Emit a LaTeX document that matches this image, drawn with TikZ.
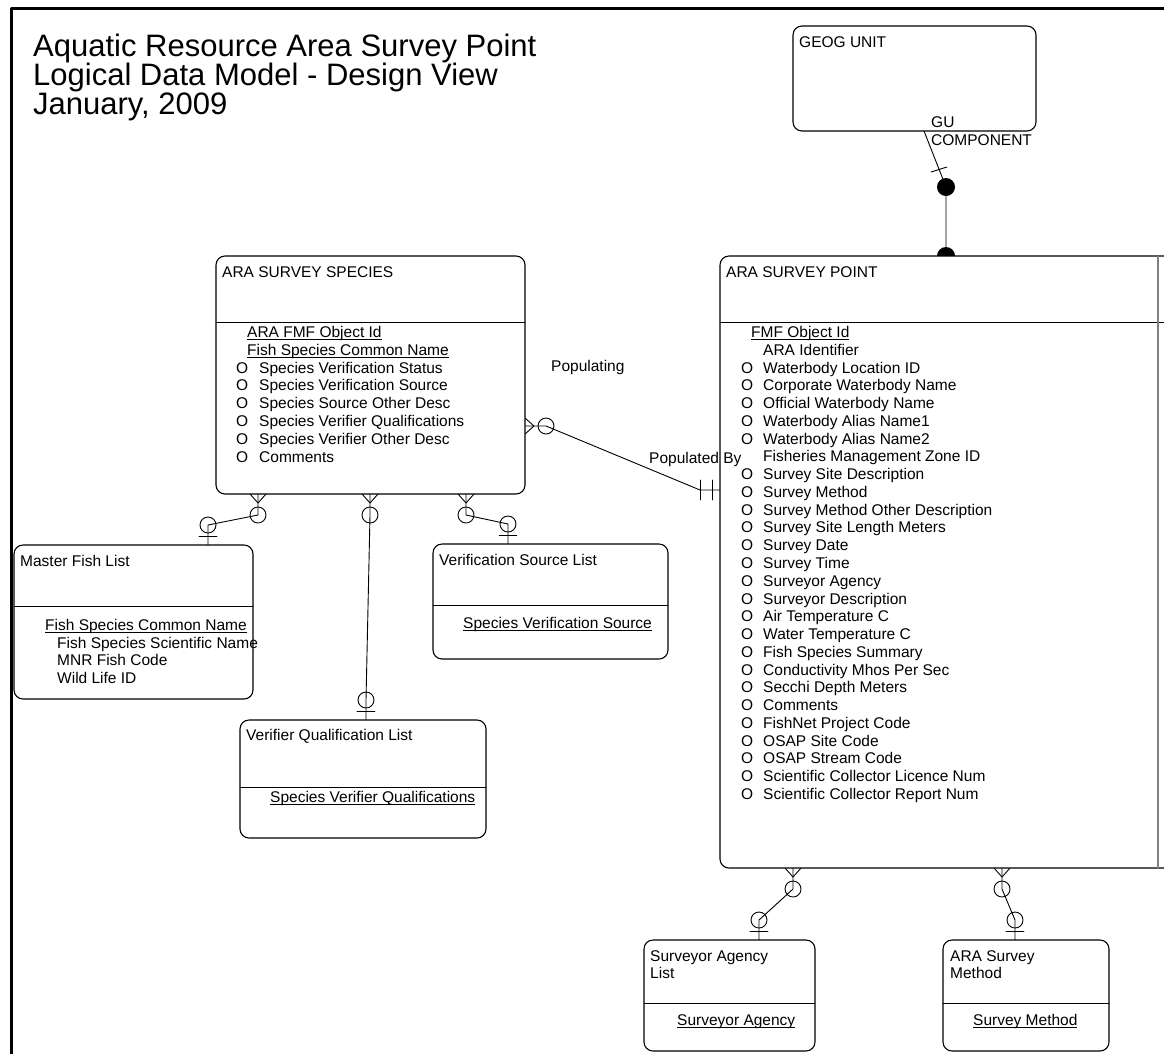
\documentclass[tikz,border=0pt]{standalone}
\usepackage{fontspec}
\setmainfont{Liberation Sans}
\usetikzlibrary{positioning}

\begin{document}
\begin{tikzpicture}[x=1pt,y=-1pt,line cap=round,line join=round,
    font=\fontsize{15.5}{17.8}\selectfont,
    entity/.style={draw,line width=1.1pt,rounded corners=9pt,fill=white,
      anchor=north west,outer sep=0pt,inner sep=0pt},
    rel/.style={line width=0.9pt},
    optc/.style={draw,line width=0.9pt,circle,minimum size=16pt,inner sep=0pt},
    txt/.style={anchor=base west,inner sep=0pt}]
  \useasboundingbox (0,0) rectangle (1164,1053);
  \clip (0,0) rectangle (1164,1053);
  \draw[line width=3pt] (11,8) rectangle (1190,1080);

  % GU component
  \coordinate (gu) at (924,131);
  \coordinate (gup) at (946,256);
  \node[circle,fill,minimum size=18pt,inner sep=0pt] (gudot) at (946,187) {};
  \draw[rel] (gu) -- (gudot.center) -- (gup);
  \draw[rel] (931,172) -- (947,167);
  \fill (gup) circle[radius=9pt];

  % populating / populated by
  \coordinate (popm) at (525,426);
  \coordinate (popk) at (700,490);
  \coordinate (popo) at (720,490);
  \node[optc] (popc) at (546,426) {};
  \draw[rel] (popm) -- (popc.center) -- (popk) -- (popo);
  \draw[rel] ([yshift=8pt]popm) -- ([xshift=9pt]popm) -- ([yshift=-8pt]popm);
  \draw[rel] ([xshift=-20pt,yshift=10pt]popo) -- ([xshift=-20pt,yshift=-10pt]popo);
  \draw[rel] ([xshift=-8pt,yshift=10pt]popo) -- ([xshift=-8pt,yshift=-10pt]popo);

  % lookup lists
  \foreach \mx/\my/\ox/\oy [count=\i] in {258/494/208/545, 370/494/366/720,
      466/494/508/544, 793/868/759/940, 1002/868/1015/940}{
    \coordinate (many\i) at (\mx,\my);
    \coordinate (one\i) at (\ox,\oy);
    \node[optc] (manyc\i) at (\mx,\my+21) {};
    \node[optc] (onec\i) at (\ox,\oy-20) {};
    \draw[rel] (many\i) -- (manyc\i.center) -- (onec\i.center) -- (one\i);
    \draw[rel] ([xshift=-8pt]many\i) -- ([yshift=-9pt]many\i) -- ([xshift=8pt]many\i);
    \draw[rel] ([xshift=-9pt,yshift=9pt]one\i) -- ([xshift=9pt,yshift=9pt]one\i);
  }

  % entities
  \node[entity,minimum width=243pt,minimum height=105pt] (geog) at (793,26) {};
  \node[entity,minimum width=309pt,minimum height=238pt] (species) at (216,256) {};
  \node[entity,minimum width=460pt,minimum height=612pt] (point) at (720,256) {};
  \node[entity,minimum width=239pt,minimum height=154pt] (master) at (14,545) {};
  \node[entity,minimum width=235pt,minimum height=115pt] (versrc) at (433,544) {};
  \node[entity,minimum width=246pt,minimum height=118pt] (verqual) at (240,720) {};
  \node[entity,minimum width=171pt,minimum height=111pt] (agency) at (644,940) {};
  \node[entity,minimum width=166pt,minimum height=111pt] (method) at (943,940) {};
  \foreach \xa/\xb/\yy in {216/525/322, 720/1180/322, 14/253/606, 433/668/605,
      240/486/787, 644/815/1003, 943/1109/1003}
    \draw[line width=0.9pt] (\xa,\yy) -- (\xb,\yy);
  \draw[gray,line width=1.2pt] (1158,256) -- (1158,868);

  % title
  \node[txt,font=\fontsize{31}{29}\selectfont] (title1) at (33,56) {Aquatic Resource Area Survey Point};
  \node[txt,font=\fontsize{31}{29}\selectfont] (title2) at (33,85) {Logical Data Model - Design View};
  \node[txt,font=\fontsize{31}{29}\selectfont] (title3) at (33,114) {January, 2009};

  % labels
  \node[txt] (lgu) at (931,127.5) {GU};
  \node[txt] (lcomp) at (931,145.5) {COMPONENT};
  \node[txt] (lpop) at (551,371.5) {Populating};
  \node[txt] (lpopby) at (649,463.5) {Populated By};

  % GEOG UNIT
  \node[txt] (geogt) at (799,47.5) {GEOG UNIT};

  % ARA SURVEY SPECIES
  \node[txt] (speciest) at (222,277.5) {ARA SURVEY SPECIES};
  \node[txt] (sk1) at (247,337.5) {\underbar{ARA FMF Object Id}};
  \node[txt] (sk2) at (247,355.3) {\underbar{Fish Species Common Name}};
  \foreach \t [count=\i from 2] in {Species Verification Status,
      Species Verification Source, Species Source Other Desc,
      Species Verifier Qualifications, Species Verifier Other Desc, Comments}{
    \node[txt] (so\i) at (236,337.5+\i*17.8) {O};
    \node[txt] (sa\i) at (259,337.5+\i*17.8) {\t};
  }

  % ARA SURVEY POINT
  \node[txt] (pointt) at (726,277.5) {ARA SURVEY POINT};
  \node[txt] (pk) at (751,337.5) {\underbar{FMF Object Id}};
  \foreach \t [count=\i] in {ARA Identifier, Waterbody Location ID,
      Corporate Waterbody Name, Official Waterbody Name, Waterbody Alias Name1,
      Waterbody Alias Name2, Fisheries Management Zone ID, Survey Site Description,
      Survey Method, Survey Method Other Description, Survey Site Length Meters,
      Survey Date, Survey Time, Surveyor Agency, Surveyor Description,
      Air Temperature C, Water Temperature C, Fish Species Summary,
      Conductivity Mhos Per Sec, Secchi Depth Meters, Comments,
      FishNet Project Code, OSAP Site Code, OSAP Stream Code,
      Scientific Collector Licence Num, Scientific Collector Report Num}
    \node[txt] (pa\i) at (763,337.5+\i*17.77) {\t};
  \foreach \i in {2,3,4,5,6}
    \node[txt] (po\i) at (741,337.5+\i*17.77) {O};
  \foreach \i in {8,...,26}
    \node[txt] (po\i) at (741,337.5+\i*17.77) {O};

  % Master Fish List
  \node[txt] (mastert) at (20,566.5) {Master Fish List};
  \node[txt] (mk) at (45,630.5) {\underbar{Fish Species Common Name}};
  \foreach \t [count=\i] in {Fish Species Scientific Name, MNR Fish Code, Wild Life ID}
    \node[txt] (ma\i) at (57,630.5+\i*17.5) {\t};

  % Verification Source List
  \node[txt] (versrct) at (439,565.5) {Verification Source List};
  \node[txt] (vk) at (463,628.5) {\underbar{Species Verification Source}};

  % Verifier Qualification List
  \node[txt] (verqualt) at (246,740.5) {Verifier Qualification List};
  \node[txt] (qk) at (270,802.5) {\underbar{Species Verifier Qualifications}};

  % Surveyor Agency List
  \node[txt] (agencyt1) at (650,961.5) {Surveyor Agency};
  \node[txt] (agencyt2) at (650,978.5) {List};
  \node[txt] (ak) at (677,1025.5) {\underbar{Surveyor Agency}};

  % ARA Survey Method
  \node[txt] (methodt1) at (950,961.5) {ARA Survey};
  \node[txt] (methodt2) at (950,978.5) {Method};
  \node[txt] (smk) at (973,1025.5) {\underbar{Survey Method}};
\end{tikzpicture}
\end{document}
